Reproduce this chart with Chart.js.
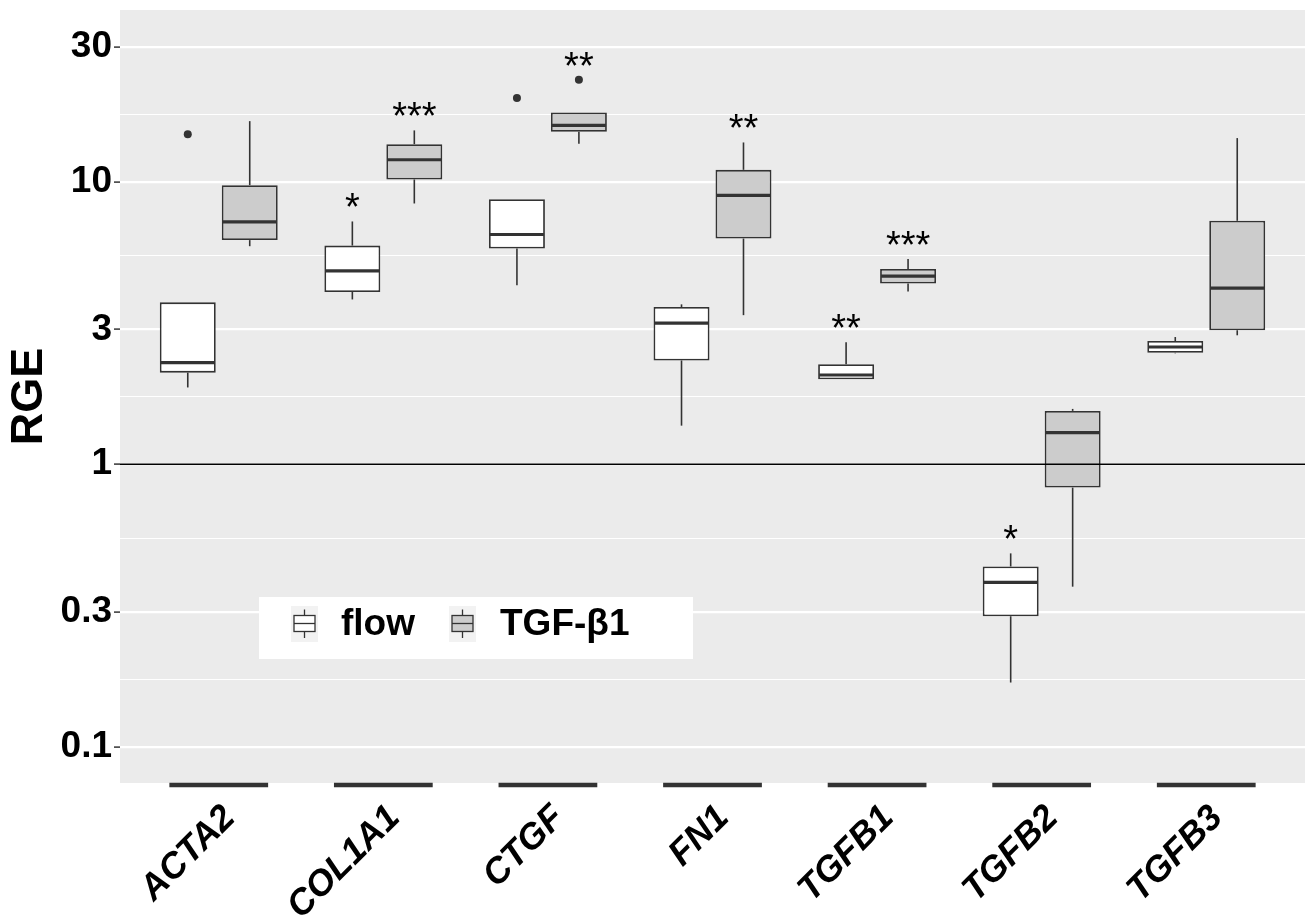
<!DOCTYPE html>
<html>
<head>
<meta charset="utf-8">
<script src="https://cdn.jsdelivr.net/npm/chart.js@4.4.0/dist/chart.umd.min.js"></script>
<style>
  html, body { margin: 0; padding: 0; background: #fff; }
  #wrap { width: 1306px; height: 919px; position: relative; }
</style>
</head>
<body>
<div id="wrap"><canvas id="boxChart"></canvas></div>
<script>
// Genes on the x axis
const genes = ["ACTA2", "COL1A1", "CTGF", "FN1", "TGFB1", "TGFB2", "TGFB3"];
const groupNames = ["flow", "TGF-β1"];

// flow: whisker ends, quartiles and median (RGE)
const flowLow    = [1.87, 3.83, 4.30, 1.37, 2.00, 0.169, 2.47];
const flowQ1     = [2.11, 4.07, 5.80, 2.33, 2.00, 0.290, 2.48];
const flowMedian = [2.29, 4.83, 6.50, 3.16, 2.07, 0.382, 2.60];
const flowQ3     = [3.74, 5.94, 8.67, 3.60, 2.26, 0.435, 2.73];
const flowHigh   = [3.74, 7.23, 8.67, 3.68, 2.70, 0.484, 2.82];
const flowOutliers = [[14.7], [], [19.75], [], [], [], []];
const flowStars  = ["", "*", "", "", "**", "*", ""];

// TGF-b1 group
const tgfLow    = [5.91, 8.37, 13.61, 3.37, 4.09, 0.369, 2.86];
const tgfQ1     = [6.21, 10.18, 15.01, 6.29, 4.36, 0.827, 2.98];
const tgfMedian = [7.21, 11.95, 15.81, 8.94, 4.63, 1.295, 4.20];
const tgfQ3     = [9.72, 13.57, 17.58, 11.01, 4.91, 1.545, 7.27];
const tgfHigh   = [16.37, 15.18, 17.58, 13.76, 5.32, 1.57, 14.26];
const tgfOutliers = [[], [], [22.93], [], [], [], []];
const tgfStars  = ["", "***", "**", "**", "***", "", ""];

// log axis breaks
const yMajorTicks = [0.1, 0.3, 1, 3, 10, 30];
const yMinorTicks = [0.173, 0.548, 1.73, 5.48, 17.3];

const groups = [
  { low: flowLow, q1: flowQ1, med: flowMedian, q3: flowQ3, high: flowHigh, out: flowOutliers, stars: flowStars },
  { low: tgfLow, q1: tgfQ1, med: tgfMedian, q3: tgfQ3, high: tgfHigh, out: tgfOutliers, stars: tgfStars }
];

const isMajor = v => yMajorTicks.includes(v);

function line(ctx, x1, y1, x2, y2) {
  ctx.beginPath();
  ctx.moveTo(x1, y1);
  ctx.lineTo(x2, y2);
  ctx.stroke();
}

// grey panel behind everything
const panelBg = {
  id: "panelBg",
  beforeDraw(chart) {
    const { ctx, chartArea: a } = chart;
    ctx.save();
    ctx.fillStyle = "#EBEBEB";
    ctx.fillRect(a.left, a.top, a.right - a.left, a.bottom - a.top);
    ctx.restore();
  }
};

// whiskers, medians, outliers, stars and the RGE = 1 line
const boxExtras = {
  id: "boxExtras",
  afterDatasetsDraw(chart) {
    const ctx = chart.ctx;
    const y = chart.scales.y;
    const a = chart.chartArea;
    ctx.save();
    groups.forEach((g, di) => {
      const meta = chart.getDatasetMeta(di);
      meta.data.forEach((bar, i) => {
        const cx = bar.x;
        const half = bar.width / 2;
        ctx.strokeStyle = "#333333";
        ctx.lineWidth = 1.6;
        line(ctx, cx, y.getPixelForValue(g.q1[i]), cx, y.getPixelForValue(g.low[i]));
        line(ctx, cx, y.getPixelForValue(g.q3[i]), cx, y.getPixelForValue(g.high[i]));
        ctx.lineWidth = 3.2;
        const ym = y.getPixelForValue(g.med[i]);
        line(ctx, cx - half + 1, ym, cx + half - 1, ym);
        ctx.fillStyle = "#333333";
        g.out[i].forEach(v => {
          ctx.beginPath();
          ctx.arc(cx, y.getPixelForValue(v), 4, 0, Math.PI * 2);
          ctx.fill();
        });
        if (g.stars[i]) {
          const top = Math.max(g.high[i], ...g.out[i]);
          ctx.fillStyle = "#000";
          ctx.font = "38px 'Liberation Sans'";
          ctx.textAlign = "center";
          ctx.textBaseline = "alphabetic";
          ctx.fillText(g.stars[i], cx, y.getPixelForValue(top) - 1);
        }
      });
    });
    ctx.strokeStyle = "#000";
    ctx.lineWidth = 1.6;
    const y1 = y.getPixelForValue(1);
    line(ctx, a.left, y1, a.right, y1);
    ctx.restore();
  }
};

// dark bars under each gene + legend inside the panel
const extrasOnTop = {
  id: "extrasOnTop",
  afterDraw(chart) {
    const ctx = chart.ctx;
    const x = chart.scales.x;
    const a = chart.chartArea;
    ctx.save();
    ctx.strokeStyle = "#333333";
    ctx.lineWidth = 4.6;
    genes.forEach((g, i) => {
      line(ctx, x.getPixelForValue(i - 0.3), a.bottom + 2, x.getPixelForValue(i + 0.3), a.bottom + 2);
    });

    // legend
    ctx.fillStyle = "#FFFFFF";
    ctx.fillRect(259, 597, 434, 62);
    const keys = [
      { kx: 291, fill: "#FFFFFF", tx: 341 },
      { kx: 449, fill: "#CCCCCC", tx: 500 }
    ];
    keys.forEach((k, i) => {
      ctx.fillStyle = "#F2F2F2";
      ctx.fillRect(k.kx, 606, 27, 36);
      const cx = k.kx + 13.5;
      ctx.fillStyle = k.fill;
      ctx.fillRect(k.kx + 3, 615.5, 21, 16);
      ctx.strokeStyle = "#333333";
      ctx.lineWidth = 1.3;
      ctx.strokeRect(k.kx + 3, 615.5, 21, 16);
      line(ctx, k.kx + 3, 623.5, k.kx + 24, 623.5);
      line(ctx, cx, 609.5, cx, 615.5);
      line(ctx, cx, 631.5, cx, 638);
      ctx.fillStyle = "#000";
      ctx.font = "bold 37px 'Liberation Sans'";
      ctx.textAlign = "left";
      ctx.textBaseline = "alphabetic";
      ctx.fillText(groupNames[i], k.tx, 635);
    });
    ctx.restore();
  }
};

const ctx = document.getElementById("boxChart").getContext("2d");
const boxChart = new Chart(ctx, {
  type: "bar",
  data: {
    datasets: [
      {
        label: groupNames[0],
        data: genes.map((g, i) => ({ x: i, y: [flowQ1[i], flowQ3[i]] })),
        backgroundColor: "#FFFFFF",
        borderColor: "#333333",
        borderWidth: 1.8,
        borderSkipped: false,
        categoryPercentage: 0.753,
        barPercentage: 0.903
      },
      {
        label: groupNames[1],
        data: genes.map((g, i) => ({ x: i, y: [tgfQ1[i], tgfQ3[i]] })),
        backgroundColor: "#CCCCCC",
        borderColor: "#333333",
        borderWidth: 1.8,
        borderSkipped: false,
        categoryPercentage: 0.753,
        barPercentage: 0.903
      }
    ]
  },
  options: {
    responsive: true,
    maintainAspectRatio: false,
    animation: false,
    layout: { padding: { top: 10, right: 1, left: 0, bottom: 0 } },
    plugins: {
      legend: { display: false },
      tooltip: { enabled: false }
    },
    scales: {
      x: {
        type: "linear",
        min: -0.6,
        max: 6.6,
        offset: false,
        grid: { display: false },
        border: { display: false },
        afterBuildTicks: s => { s.ticks = genes.map((g, i) => ({ value: i })); },
        afterFit: s => {
          s.height = 136;
          s.paddingLeft = 0;
          s.paddingRight = 0;
        },
        ticks: {
          autoSkip: false,
          minRotation: 45,
          maxRotation: 45,
          padding: 6,
          labelOffset: 11,
          color: "#000",
          font: { family: "Liberation Sans", size: 36, weight: "bold", style: "italic" },
          callback: v => genes[v]
        }
      },
      y: {
        type: "logarithmic",
        min: 0.07455,
        max: 40.48,
        afterBuildTicks: s => {
          s.ticks = yMajorTicks.concat(yMinorTicks).sort((p, q) => p - q).map(v => ({ value: v }));
        },
        afterFit: s => {
          s.width = 120;
          s.paddingTop = 0;
          s.paddingBottom = 0;
        },
        grid: {
          color: "#FFFFFF",
          lineWidth: c => (c.tick && isMajor(c.tick.value) ? 2.2 : 1.1),
          drawTicks: true,
          tickLength: 6,
          tickWidth: 1.5,
          tickColor: c => (c.tick && isMajor(c.tick.value) ? "#333333" : "rgba(0,0,0,0)")
        },
        border: { display: false },
        ticks: {
          autoSkip: false,
          padding: 2,
          color: "#000",
          font: { family: "Liberation Sans", size: 37, weight: "bold" },
          callback: v => (isMajor(v) ? String(v) : "")
        },
        title: {
          display: true,
          text: "RGE",
          color: "#000",
          font: { family: "Liberation Sans", size: 45, weight: "bold" },
          padding: { top: 3, bottom: 0 }
        }
      }
    }
  },
  plugins: [panelBg, boxExtras, extrasOnTop]
});
</script>
</body>
</html>
